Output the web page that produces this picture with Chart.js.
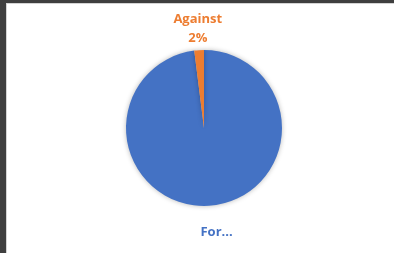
<!DOCTYPE html>
<html>
<head>
<meta charset="utf-8">
<script src="https://cdn.jsdelivr.net/npm/chart.js@4/dist/chart.umd.min.js"></script>
<style>
  html, body { margin: 0; padding: 0; width: 394px; height: 253px; overflow: hidden; background: #3f3f3f; }
  #panel { position: absolute; left: 6px; top: 3px; width: 387px; height: 250px; background: #ffffff; border-left: 1px solid #d4d4d4; border-top: 1px solid #d4d4d4; }
  #wrap { position: absolute; left: 0; top: 0; width: 394px; height: 253px; }
</style>
</head>
<body>
<div id="panel"></div>
<div id="wrap"><canvas id="c" width="394" height="253"></canvas></div>
<script>
const categories = ["For", "Against"];
const values = [98, 2];
const labelTexts = [["For..."], ["Against", "2%"]];
const colors = ["#4472C4", "#ED7D31"];

const labelGap = [27, 21];
const labelShiftX = [6, 0];

const shadowPlugin = {
  id: 'shadow',
  beforeDatasetsDraw(chart) {
    const ctx = chart.ctx;
    ctx.save();
    ctx.shadowColor = 'rgba(0,0,0,0.28)';
    ctx.shadowBlur = 5;
    ctx.shadowOffsetX = 0;
    ctx.shadowOffsetY = 0;
  },
  afterDatasetsDraw(chart) {
    chart.ctx.restore();
  }
};

const labelPlugin = {
  id: 'outLabels',
  afterDatasetsDraw(chart) {
    const ctx = chart.ctx;
    const meta = chart.getDatasetMeta(0);
    ctx.save();
    ctx.font = 'bold 13px "Open Sans", "Liberation Sans", sans-serif';
    ctx.textAlign = 'center';
    ctx.textBaseline = 'middle';
    meta.data.forEach((arc, i) => {
      const p = arc.getProps(['x', 'y', 'startAngle', 'endAngle', 'outerRadius'], true);
      const mid = (p.startAngle + p.endAngle) / 2;
      const d = p.outerRadius + labelGap[i];
      const cx = p.x + Math.cos(mid) * d + labelShiftX[i];
      const cy = p.y + Math.sin(mid) * d;
      const lines = labelTexts[i];
      const lh = 19;
      ctx.fillStyle = colors[i];
      lines.forEach((t, k) => {
        ctx.fillText(t, cx, cy + (k - (lines.length - 1) / 2) * lh);
      });
    });
    ctx.restore();
  }
};

new Chart(document.getElementById('c'), {
  type: 'pie',
  data: {
    labels: categories,
    datasets: [{
      data: values,
      backgroundColor: colors,
      borderWidth: 0
    }]
  },
  options: {
    responsive: false,
    animation: false,
    layout: { padding: { left: 126, right: 112, top: 50, bottom: 47 } },
    plugins: {
      legend: { display: false },
      tooltip: { enabled: false }
    }
  },
  plugins: [shadowPlugin, labelPlugin]
});
</script>
</body>
</html>
